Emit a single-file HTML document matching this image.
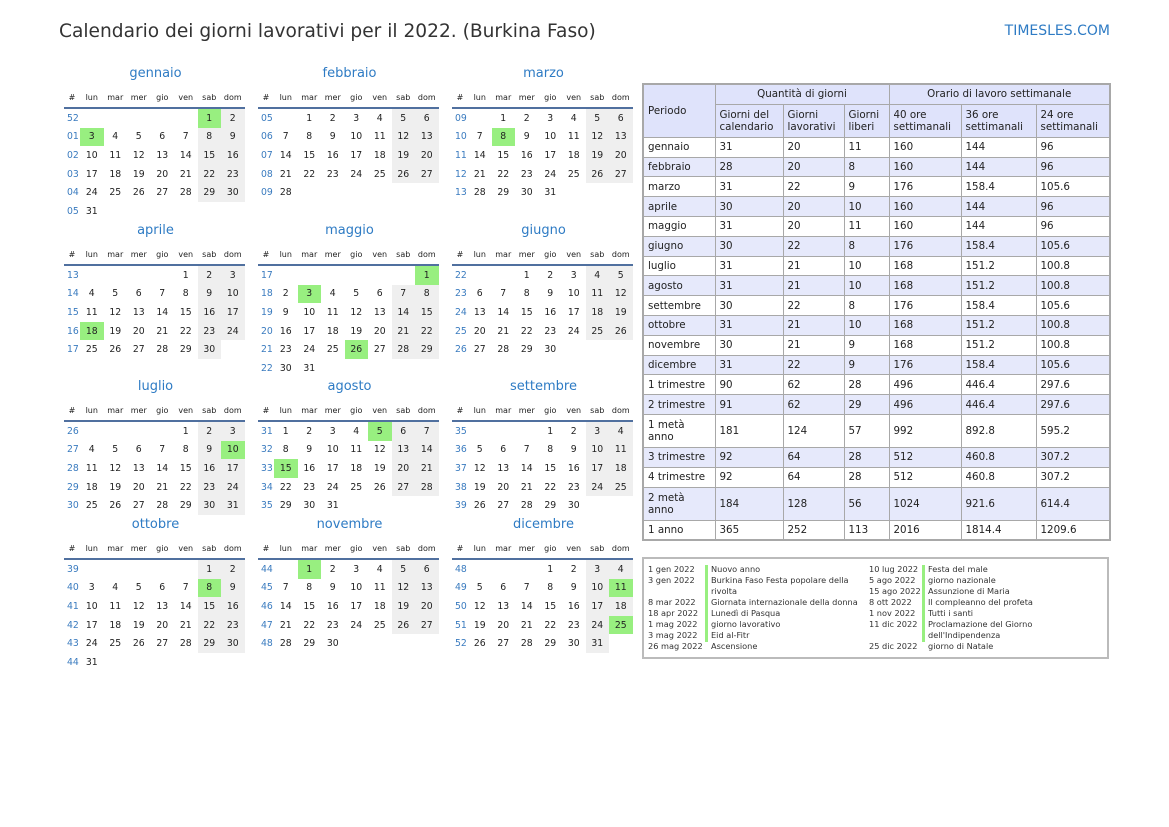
<!DOCTYPE html>
<html><head><meta charset="utf-8"><style>
body{margin:0;width:1169px;height:827px;background:#fff;font-family:"DejaVu Sans","Liberation Sans",sans-serif;color:#222;position:relative;overflow:hidden}
.title{position:absolute;left:59px;top:21px;font-size:18.6px;color:#333;white-space:nowrap}
.site{position:absolute;right:59px;top:23px;font-size:14px;color:#2e7bc4}
.m{position:absolute;width:183px}
.m .t{height:26px;line-height:26px;text-align:center;color:#2e7bc4;font-size:13px}
.m table{border-collapse:collapse;table-layout:fixed;width:180.5px}
.m th{height:20px;padding:0;font-size:8px;font-weight:normal;border-bottom:2px solid #50709f;text-align:center;width:23.5px}
.m th.w{width:16px}
.m td{height:18.6px;padding:0;text-align:center;font-size:9.3px}
.m td.w{color:#3a7bbf;text-align:left;padding-left:3px}
.g{background:#efefef}.h{background:#98ef80}
.tb{position:absolute;left:642px;top:83px;border-collapse:collapse;font-size:10.3px;border:2px solid #a8a8a8}
.tb td{border:1px solid #a8a8a8;padding:0 0 0 4px;height:18.8px;vertical-align:middle;line-height:12px}
.tb .hd td{background:#dfe3fb}
.tb tr.b td{background:#e6e9fb}
.hol{position:absolute;left:642px;top:557px;width:463px;height:98px;border:2px solid #bbb;font-size:8.2px;line-height:11px;color:#333}
.hol div{position:absolute;white-space:nowrap}
.bar{position:absolute;width:3px;background:#98ef80}
</style></head><body>
<div class="title">Calendario dei giorni lavorativi per il 2022. (Burkina Faso)</div>
<div class="site">TIMESLES.COM</div>

<div class="m" style="left:64px;top:61px"><div class="t">gennaio</div><table>
<tr><th class="w">#</th><th>lun</th><th>mar</th><th>mer</th><th>gio</th><th>ven</th><th>sab</th><th>dom</th></tr>
<tr><td class="w">52</td><td></td><td></td><td></td><td></td><td></td><td class="h">1</td><td class="g">2</td></tr>
<tr><td class="w">01</td><td class="h">3</td><td>4</td><td>5</td><td>6</td><td>7</td><td class="g">8</td><td class="g">9</td></tr>
<tr><td class="w">02</td><td>10</td><td>11</td><td>12</td><td>13</td><td>14</td><td class="g">15</td><td class="g">16</td></tr>
<tr><td class="w">03</td><td>17</td><td>18</td><td>19</td><td>20</td><td>21</td><td class="g">22</td><td class="g">23</td></tr>
<tr><td class="w">04</td><td>24</td><td>25</td><td>26</td><td>27</td><td>28</td><td class="g">29</td><td class="g">30</td></tr>
<tr><td class="w">05</td><td>31</td><td></td><td></td><td></td><td></td><td></td><td></td></tr>
</table></div>

<div class="m" style="left:258px;top:61px"><div class="t">febbraio</div><table>
<tr><th class="w">#</th><th>lun</th><th>mar</th><th>mer</th><th>gio</th><th>ven</th><th>sab</th><th>dom</th></tr>
<tr><td class="w">05</td><td></td><td>1</td><td>2</td><td>3</td><td>4</td><td class="g">5</td><td class="g">6</td></tr>
<tr><td class="w">06</td><td>7</td><td>8</td><td>9</td><td>10</td><td>11</td><td class="g">12</td><td class="g">13</td></tr>
<tr><td class="w">07</td><td>14</td><td>15</td><td>16</td><td>17</td><td>18</td><td class="g">19</td><td class="g">20</td></tr>
<tr><td class="w">08</td><td>21</td><td>22</td><td>23</td><td>24</td><td>25</td><td class="g">26</td><td class="g">27</td></tr>
<tr><td class="w">09</td><td>28</td><td></td><td></td><td></td><td></td><td></td><td></td></tr>
</table></div>

<div class="m" style="left:452px;top:61px"><div class="t">marzo</div><table>
<tr><th class="w">#</th><th>lun</th><th>mar</th><th>mer</th><th>gio</th><th>ven</th><th>sab</th><th>dom</th></tr>
<tr><td class="w">09</td><td></td><td>1</td><td>2</td><td>3</td><td>4</td><td class="g">5</td><td class="g">6</td></tr>
<tr><td class="w">10</td><td>7</td><td class="h">8</td><td>9</td><td>10</td><td>11</td><td class="g">12</td><td class="g">13</td></tr>
<tr><td class="w">11</td><td>14</td><td>15</td><td>16</td><td>17</td><td>18</td><td class="g">19</td><td class="g">20</td></tr>
<tr><td class="w">12</td><td>21</td><td>22</td><td>23</td><td>24</td><td>25</td><td class="g">26</td><td class="g">27</td></tr>
<tr><td class="w">13</td><td>28</td><td>29</td><td>30</td><td>31</td><td></td><td></td><td></td></tr>
</table></div>

<div class="m" style="left:64px;top:218px"><div class="t">aprile</div><table>
<tr><th class="w">#</th><th>lun</th><th>mar</th><th>mer</th><th>gio</th><th>ven</th><th>sab</th><th>dom</th></tr>
<tr><td class="w">13</td><td></td><td></td><td></td><td></td><td>1</td><td class="g">2</td><td class="g">3</td></tr>
<tr><td class="w">14</td><td>4</td><td>5</td><td>6</td><td>7</td><td>8</td><td class="g">9</td><td class="g">10</td></tr>
<tr><td class="w">15</td><td>11</td><td>12</td><td>13</td><td>14</td><td>15</td><td class="g">16</td><td class="g">17</td></tr>
<tr><td class="w">16</td><td class="h">18</td><td>19</td><td>20</td><td>21</td><td>22</td><td class="g">23</td><td class="g">24</td></tr>
<tr><td class="w">17</td><td>25</td><td>26</td><td>27</td><td>28</td><td>29</td><td class="g">30</td><td></td></tr>
</table></div>

<div class="m" style="left:258px;top:218px"><div class="t">maggio</div><table>
<tr><th class="w">#</th><th>lun</th><th>mar</th><th>mer</th><th>gio</th><th>ven</th><th>sab</th><th>dom</th></tr>
<tr><td class="w">17</td><td></td><td></td><td></td><td></td><td></td><td></td><td class="h">1</td></tr>
<tr><td class="w">18</td><td>2</td><td class="h">3</td><td>4</td><td>5</td><td>6</td><td class="g">7</td><td class="g">8</td></tr>
<tr><td class="w">19</td><td>9</td><td>10</td><td>11</td><td>12</td><td>13</td><td class="g">14</td><td class="g">15</td></tr>
<tr><td class="w">20</td><td>16</td><td>17</td><td>18</td><td>19</td><td>20</td><td class="g">21</td><td class="g">22</td></tr>
<tr><td class="w">21</td><td>23</td><td>24</td><td>25</td><td class="h">26</td><td>27</td><td class="g">28</td><td class="g">29</td></tr>
<tr><td class="w">22</td><td>30</td><td>31</td><td></td><td></td><td></td><td></td><td></td></tr>
</table></div>

<div class="m" style="left:452px;top:218px"><div class="t">giugno</div><table>
<tr><th class="w">#</th><th>lun</th><th>mar</th><th>mer</th><th>gio</th><th>ven</th><th>sab</th><th>dom</th></tr>
<tr><td class="w">22</td><td></td><td></td><td>1</td><td>2</td><td>3</td><td class="g">4</td><td class="g">5</td></tr>
<tr><td class="w">23</td><td>6</td><td>7</td><td>8</td><td>9</td><td>10</td><td class="g">11</td><td class="g">12</td></tr>
<tr><td class="w">24</td><td>13</td><td>14</td><td>15</td><td>16</td><td>17</td><td class="g">18</td><td class="g">19</td></tr>
<tr><td class="w">25</td><td>20</td><td>21</td><td>22</td><td>23</td><td>24</td><td class="g">25</td><td class="g">26</td></tr>
<tr><td class="w">26</td><td>27</td><td>28</td><td>29</td><td>30</td><td></td><td></td><td></td></tr>
</table></div>

<div class="m" style="left:64px;top:374px"><div class="t">luglio</div><table>
<tr><th class="w">#</th><th>lun</th><th>mar</th><th>mer</th><th>gio</th><th>ven</th><th>sab</th><th>dom</th></tr>
<tr><td class="w">26</td><td></td><td></td><td></td><td></td><td>1</td><td class="g">2</td><td class="g">3</td></tr>
<tr><td class="w">27</td><td>4</td><td>5</td><td>6</td><td>7</td><td>8</td><td class="g">9</td><td class="h">10</td></tr>
<tr><td class="w">28</td><td>11</td><td>12</td><td>13</td><td>14</td><td>15</td><td class="g">16</td><td class="g">17</td></tr>
<tr><td class="w">29</td><td>18</td><td>19</td><td>20</td><td>21</td><td>22</td><td class="g">23</td><td class="g">24</td></tr>
<tr><td class="w">30</td><td>25</td><td>26</td><td>27</td><td>28</td><td>29</td><td class="g">30</td><td class="g">31</td></tr>
</table></div>

<div class="m" style="left:258px;top:374px"><div class="t">agosto</div><table>
<tr><th class="w">#</th><th>lun</th><th>mar</th><th>mer</th><th>gio</th><th>ven</th><th>sab</th><th>dom</th></tr>
<tr><td class="w">31</td><td>1</td><td>2</td><td>3</td><td>4</td><td class="h">5</td><td class="g">6</td><td class="g">7</td></tr>
<tr><td class="w">32</td><td>8</td><td>9</td><td>10</td><td>11</td><td>12</td><td class="g">13</td><td class="g">14</td></tr>
<tr><td class="w">33</td><td class="h">15</td><td>16</td><td>17</td><td>18</td><td>19</td><td class="g">20</td><td class="g">21</td></tr>
<tr><td class="w">34</td><td>22</td><td>23</td><td>24</td><td>25</td><td>26</td><td class="g">27</td><td class="g">28</td></tr>
<tr><td class="w">35</td><td>29</td><td>30</td><td>31</td><td></td><td></td><td></td><td></td></tr>
</table></div>

<div class="m" style="left:452px;top:374px"><div class="t">settembre</div><table>
<tr><th class="w">#</th><th>lun</th><th>mar</th><th>mer</th><th>gio</th><th>ven</th><th>sab</th><th>dom</th></tr>
<tr><td class="w">35</td><td></td><td></td><td></td><td>1</td><td>2</td><td class="g">3</td><td class="g">4</td></tr>
<tr><td class="w">36</td><td>5</td><td>6</td><td>7</td><td>8</td><td>9</td><td class="g">10</td><td class="g">11</td></tr>
<tr><td class="w">37</td><td>12</td><td>13</td><td>14</td><td>15</td><td>16</td><td class="g">17</td><td class="g">18</td></tr>
<tr><td class="w">38</td><td>19</td><td>20</td><td>21</td><td>22</td><td>23</td><td class="g">24</td><td class="g">25</td></tr>
<tr><td class="w">39</td><td>26</td><td>27</td><td>28</td><td>29</td><td>30</td><td></td><td></td></tr>
</table></div>

<div class="m" style="left:64px;top:512px"><div class="t">ottobre</div><table>
<tr><th class="w">#</th><th>lun</th><th>mar</th><th>mer</th><th>gio</th><th>ven</th><th>sab</th><th>dom</th></tr>
<tr><td class="w">39</td><td></td><td></td><td></td><td></td><td></td><td class="g">1</td><td class="g">2</td></tr>
<tr><td class="w">40</td><td>3</td><td>4</td><td>5</td><td>6</td><td>7</td><td class="h">8</td><td class="g">9</td></tr>
<tr><td class="w">41</td><td>10</td><td>11</td><td>12</td><td>13</td><td>14</td><td class="g">15</td><td class="g">16</td></tr>
<tr><td class="w">42</td><td>17</td><td>18</td><td>19</td><td>20</td><td>21</td><td class="g">22</td><td class="g">23</td></tr>
<tr><td class="w">43</td><td>24</td><td>25</td><td>26</td><td>27</td><td>28</td><td class="g">29</td><td class="g">30</td></tr>
<tr><td class="w">44</td><td>31</td><td></td><td></td><td></td><td></td><td></td><td></td></tr>
</table></div>

<div class="m" style="left:258px;top:512px"><div class="t">novembre</div><table>
<tr><th class="w">#</th><th>lun</th><th>mar</th><th>mer</th><th>gio</th><th>ven</th><th>sab</th><th>dom</th></tr>
<tr><td class="w">44</td><td></td><td class="h">1</td><td>2</td><td>3</td><td>4</td><td class="g">5</td><td class="g">6</td></tr>
<tr><td class="w">45</td><td>7</td><td>8</td><td>9</td><td>10</td><td>11</td><td class="g">12</td><td class="g">13</td></tr>
<tr><td class="w">46</td><td>14</td><td>15</td><td>16</td><td>17</td><td>18</td><td class="g">19</td><td class="g">20</td></tr>
<tr><td class="w">47</td><td>21</td><td>22</td><td>23</td><td>24</td><td>25</td><td class="g">26</td><td class="g">27</td></tr>
<tr><td class="w">48</td><td>28</td><td>29</td><td>30</td><td></td><td></td><td></td><td></td></tr>
</table></div>

<div class="m" style="left:452px;top:512px"><div class="t">dicembre</div><table>
<tr><th class="w">#</th><th>lun</th><th>mar</th><th>mer</th><th>gio</th><th>ven</th><th>sab</th><th>dom</th></tr>
<tr><td class="w">48</td><td></td><td></td><td></td><td>1</td><td>2</td><td class="g">3</td><td class="g">4</td></tr>
<tr><td class="w">49</td><td>5</td><td>6</td><td>7</td><td>8</td><td>9</td><td class="g">10</td><td class="h">11</td></tr>
<tr><td class="w">50</td><td>12</td><td>13</td><td>14</td><td>15</td><td>16</td><td class="g">17</td><td class="g">18</td></tr>
<tr><td class="w">51</td><td>19</td><td>20</td><td>21</td><td>22</td><td>23</td><td class="g">24</td><td class="h">25</td></tr>
<tr><td class="w">52</td><td>26</td><td>27</td><td>28</td><td>29</td><td>30</td><td class="g">31</td><td></td></tr>
</table></div>

<table class="tb">
<colgroup><col style="width:72px"><col style="width:68px"><col style="width:61px"><col style="width:45px"><col style="width:72px"><col style="width:75px"><col style="width:74px"></colgroup>
<tr class="hd"><td rowspan="2">Periodo</td><td colspan="3" style="text-align:center;padding:0">Quantità di giorni</td><td colspan="3" style="text-align:center;padding:0">Orario di lavoro settimanale</td></tr>
<tr class="hd" style="height:33px"><td>Giorni del calendario</td><td>Giorni lavorativi</td><td>Giorni liberi</td><td>40 ore settimanali</td><td>36 ore settimanali</td><td>24 ore settimanali</td></tr>
<tr><td>gennaio</td><td>31</td><td>20</td><td>11</td><td>160</td><td>144</td><td>96</td></tr>
<tr class="b"><td>febbraio</td><td>28</td><td>20</td><td>8</td><td>160</td><td>144</td><td>96</td></tr>
<tr><td>marzo</td><td>31</td><td>22</td><td>9</td><td>176</td><td>158.4</td><td>105.6</td></tr>
<tr class="b"><td>aprile</td><td>30</td><td>20</td><td>10</td><td>160</td><td>144</td><td>96</td></tr>
<tr><td>maggio</td><td>31</td><td>20</td><td>11</td><td>160</td><td>144</td><td>96</td></tr>
<tr class="b"><td>giugno</td><td>30</td><td>22</td><td>8</td><td>176</td><td>158.4</td><td>105.6</td></tr>
<tr><td>luglio</td><td>31</td><td>21</td><td>10</td><td>168</td><td>151.2</td><td>100.8</td></tr>
<tr class="b"><td>agosto</td><td>31</td><td>21</td><td>10</td><td>168</td><td>151.2</td><td>100.8</td></tr>
<tr><td>settembre</td><td>30</td><td>22</td><td>8</td><td>176</td><td>158.4</td><td>105.6</td></tr>
<tr class="b"><td>ottobre</td><td>31</td><td>21</td><td>10</td><td>168</td><td>151.2</td><td>100.8</td></tr>
<tr><td>novembre</td><td>30</td><td>21</td><td>9</td><td>168</td><td>151.2</td><td>100.8</td></tr>
<tr class="b"><td>dicembre</td><td>31</td><td>22</td><td>9</td><td>176</td><td>158.4</td><td>105.6</td></tr>
<tr><td>1 trimestre</td><td>90</td><td>62</td><td>28</td><td>496</td><td>446.4</td><td>297.6</td></tr>
<tr class="b"><td>2 trimestre</td><td>91</td><td>62</td><td>29</td><td>496</td><td>446.4</td><td>297.6</td></tr>
<tr style="height:33px"><td>1 metà<br>anno</td><td>181</td><td>124</td><td>57</td><td>992</td><td>892.8</td><td>595.2</td></tr>
<tr class="b"><td>3 trimestre</td><td>92</td><td>64</td><td>28</td><td>512</td><td>460.8</td><td>307.2</td></tr>
<tr><td>4 trimestre</td><td>92</td><td>64</td><td>28</td><td>512</td><td>460.8</td><td>307.2</td></tr>
<tr class="b" style="height:33px"><td>2 metà<br>anno</td><td>184</td><td>128</td><td>56</td><td>1024</td><td>921.6</td><td>614.4</td></tr>
<tr><td>1 anno</td><td>365</td><td>252</td><td>113</td><td>2016</td><td>1814.4</td><td>1209.6</td></tr>
</table>

<div class="hol">
<div style="left:4px;top:5px">1 gen 2022<br>3 gen 2022<br><br>8 mar 2022<br>18 apr 2022<br>1 mag 2022<br>3 mag 2022<br>26 mag 2022</div>
<span class="bar" style="left:61px;top:6px;height:77px"></span>
<div style="left:67px;top:5px">Nuovo anno<br>Burkina Faso Festa popolare della<br>rivolta<br>Giornata internazionale della donna<br>Lunedì di Pasqua<br>giorno lavorativo<br>Eid al-Fitr<br>Ascensione</div>
<div style="left:225px;top:5px">10 lug 2022<br>5 ago 2022<br>15 ago 2022<br>8 ott 2022<br>1 nov 2022<br>11 dic 2022<br><br>25 dic 2022</div>
<span class="bar" style="left:278px;top:6px;height:77px"></span>
<div style="left:284px;top:5px">Festa del male<br>giorno nazionale<br>Assunzione di Maria<br>Il compleanno del profeta<br>Tutti i santi<br>Proclamazione del Giorno<br>dell'Indipendenza<br>giorno di Natale</div>
</div>
</body></html>
